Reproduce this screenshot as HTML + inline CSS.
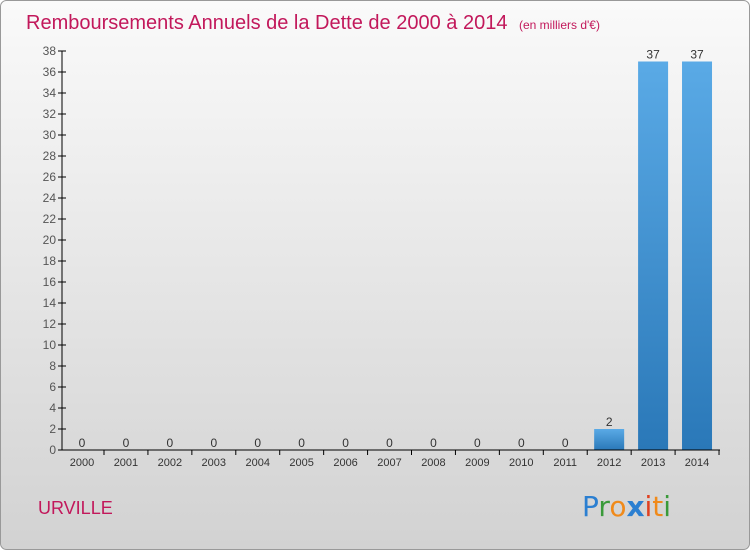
<!DOCTYPE html>
<html><head><meta charset="utf-8"><style>
body{margin:0}
#c{width:750px;height:550px;position:relative;font-family:"Liberation Sans",sans-serif;}
</style></head><body>
<div id="c">
<svg width="750" height="550" xmlns="http://www.w3.org/2000/svg" id="svg">
<defs>
<linearGradient id="bg" x1="0" y1="0" x2="0" y2="1"><stop offset="0" stop-color="#fafafa"/><stop offset="1" stop-color="#d2d2d2"/></linearGradient>
<linearGradient id="bar" x1="0" y1="0" x2="0" y2="1"><stop offset="0" stop-color="#5aaae6"/><stop offset="1" stop-color="#2a78b8"/></linearGradient>
</defs>
<rect x="0.5" y="0.5" width="749" height="549" rx="6" fill="url(#bg)" stroke="#999"/>
<text x="26" y="29" font-size="20" fill="#c2185b">Remboursements Annuels de la Dette de 2000 à 2014 <tspan font-size="12" dx="6">(en milliers d'€)</tspan></text>
<text x="38" y="514" font-size="18" fill="#c2185b">URVILLE</text>
<g font-size="28" font-family="DejaVu Sans, sans-serif">
<text x="582" y="516"><tspan fill="#2b7fd1">P</tspan><tspan fill="#3a9a3a">r</tspan><tspan fill="#f08a1a">o</tspan><tspan fill="#2b7fd1" font-weight="bold">x</tspan><tspan fill="#e04020">i</tspan><tspan fill="#f08a1a">t</tspan><tspan fill="#3a9a3a">i</tspan></text>
</g>
<g id="plot"></g>
</svg>
</div>
<script>
const categories=["2000","2001","2002","2003","2004","2005","2006","2007","2008","2009","2010","2011","2012","2013","2014"];
const values=[0,0,0,0,0,0,0,0,0,0,0,0,2,37,37];
const yTicks=[0,2,4,6,8,10,12,14,16,18,20,22,24,26,28,30,32,34,36,38];
const NS="http://www.w3.org/2000/svg";
const g=document.getElementById('plot');
const y=v=>450-v*(399/38);
const x=i=>82+i*43.93;
function el(t,a,txt){const e=document.createElementNS(NS,t);for(const k in a)e.setAttribute(k,a[k]);if(txt!=null)e.textContent=txt;g.appendChild(e);return e;}
yTicks.forEach(t=>{
 const l=el('line',{x1:58,x2:66,y1:y(t),y2:y(t),stroke:'#000'});
 
 
 const tx=el('text',{x:56,y:y(t)+4,'font-size':12,fill:'#555','text-anchor':'end'},t);
 
 
});
categories.forEach((c,i)=>{
 const v=values[i];
 if(v>0){const r=el('rect',{x:x(i)-15,y:y(v),width:30,height:450-y(v),fill:'url(#bar)'});
 
 }
 const vl=el('text',{x:x(i),y:y(v)-3,'font-size':12,fill:'#333','text-anchor':'middle'},v);
 
 
 const tl=el('line',{x1:x(i)+22,x2:x(i)+22,y1:450,y2:455,stroke:'#000'});
 
 
 const xl=el('text',{x:x(i),y:466,'font-size':11,fill:'#333','text-anchor':'middle'},c);
 
 
});
const ya=el('line',{x1:62,x2:62,y1:y(38),y2:450,stroke:'#000'});


const xa=el('line',{x1:62,x2:720,y1:450,y2:450,stroke:'#000'});


</script>
</body></html>
